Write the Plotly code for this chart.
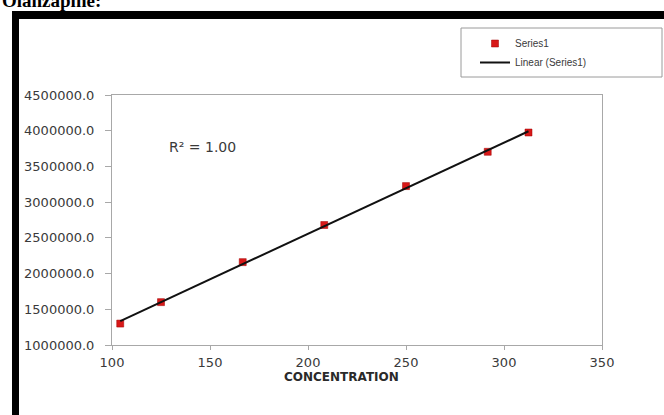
import numpy as np
import plotly.graph_objects as go

# Data
concentration = [104.2, 125.0, 166.7, 208.3, 250.0, 291.7, 312.5]
response = [1300000, 1600000, 2160000, 2680000, 3225000, 3705000, 3975000]
x_ticks = [100, 150, 200, 250, 300, 350]
y_ticks = [1000000, 1500000, 2000000, 2500000, 3000000, 3500000, 4000000, 4500000]

W, H = 664, 415
L, R, T, B = 112, 62, 95, 70
pw, ph = W - L - R, H - T - B

def px(x):
    return (x - L) / pw

def py(y):
    return (H - B - y) / ph

# linear trendline (least squares fit of the series)
slope, intercept = np.polyfit(concentration, response, 1)
xfit = [min(concentration), max(concentration)]
yfit = [slope * v + intercept for v in xfit]

fig = go.Figure()
fig.add_trace(go.Scatter(
    x=concentration, y=response, mode="markers", name="Series1",
    marker=dict(symbol="square", size=7, color="#d81818",
                line=dict(width=0.5, color="#a00000")),
))
fig.add_trace(go.Scatter(
    x=xfit, y=yfit, mode="lines", name="Linear (Series1)",
    line=dict(color="#111111", width=2),
))

tickfont = dict(family="DejaVu Sans, Verdana", size=13, color="#3a3a3a")
axis_common = dict(
    showgrid=False, zeroline=False, showline=True, linecolor="#a8a8a8",
    linewidth=1, mirror=True, ticks="outside", tickcolor="#a8a8a8",
    tickfont=tickfont,
)

fig.update_layout(
    width=W, height=H,
    margin=dict(l=L, r=R, t=T, b=B, pad=0),
    paper_bgcolor="white", plot_bgcolor="white",
    xaxis=dict(range=[100, 350], tickvals=x_ticks, ticklen=4,
               ticklabelstandoff=1, **axis_common),
    yaxis=dict(range=[1000000, 4500000], tickvals=y_ticks, tickformat=".1f",
               ticklen=6, ticklabelstandoff=8, **axis_common),
    showlegend=True,
    legend=dict(
        x=px(475), y=py(29), xanchor="left", yanchor="top",
        bgcolor="rgba(0,0,0,0)", borderwidth=0,
        font=dict(family="Liberation Sans, Arial", size=10, color="#3a3a3a"),
        tracegroupgap=0,
    ),
    shapes=[
        # legend frame
        dict(type="rect", xref="paper", yref="paper",
             x0=px(461), x1=px(662), y0=py(28), y1=py(77),
             line=dict(color="#9a9a9a", width=1)),
        # black frame top and left
        dict(type="rect", xref="paper", yref="paper",
             x0=px(12), x1=px(664), y0=py(19), y1=py(11),
             fillcolor="black", line=dict(width=0)),
        dict(type="rect", xref="paper", yref="paper",
             x0=px(12), x1=px(19), y0=py(415), y1=py(11),
             fillcolor="black", line=dict(width=0)),
    ],
    annotations=[
        dict(text="R² = 1.00", xref="paper", yref="paper", x=px(167), y=py(147),
             xanchor="left", yanchor="middle", showarrow=False,
             font=dict(family="DejaVu Sans, Verdana", size=14, color="#3a3a3a")),
        dict(text="<b>CONCENTRATION</b>", xref="paper", yref="paper", x=px(341), y=py(377),
             xanchor="center", yanchor="middle", showarrow=False,
             font=dict(family="DejaVu Sans, Verdana", size=12, color="#2a2a2a")),
        dict(text="<b>Olanzapine:</b>", xref="paper", yref="paper", x=px(0), y=py(13),
             xanchor="left", yanchor="bottom", showarrow=False,
             font=dict(family="Liberation Serif, Times New Roman", size=19, color="black")),
    ],
)

fig.write_html("out.html", config={"displayModeBar": False},
               post_script="document.body.style.margin='0px';")
